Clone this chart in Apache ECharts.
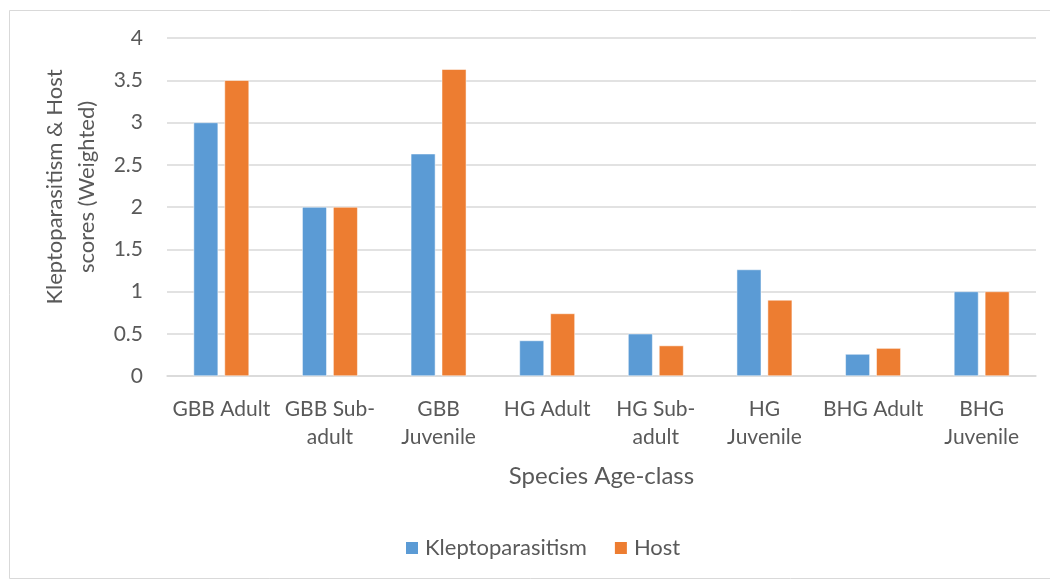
<!DOCTYPE html>
<html>
<head>
<meta charset="utf-8">
<script src="https://cdn.jsdelivr.net/npm/echarts@6/dist/echarts.min.js"></script>
<style>html,body{margin:0;padding:0;background:#fff}#c{width:1050px;height:579px}</style>
</head>
<body>
<div id="c"></div>
<script>
const categories = ['GBB Adult', 'GBB Sub-\nadult', 'GBB\nJuvenile', 'HG Adult', 'HG Sub-\nadult', 'HG\nJuvenile', 'BHG Adult', 'BHG\nJuvenile'];
const kleptoparasitism = [3.0, 2.0, 2.63, 0.42, 0.5, 1.26, 0.26, 1.0];
const host = [3.5, 2.0, 3.63, 0.74, 0.36, 0.9, 0.33, 1.0];
const yTicks = [0, 0.5, 1, 1.5, 2, 2.5, 3, 3.5, 4];

const FONT = 'Lato, "Open Sans", sans-serif';
const TXT = '#595959';
const chart = echarts.init(document.getElementById('c'));
chart.setOption({
  animation: false,
  backgroundColor: '#fff',
  graphic: [{
    type: 'rect', left: 7, top: 8,
    shape: { width: 1050, height: 568 },
    style: { fill: 'none', stroke: '#d9d9d9', lineWidth: 1 },
    silent: true, z: -1
  }],
  grid: { left: 167, right: 14, top: 38, bottom: 203, containLabel: false },
  legend: {
    top: 532, left: 399,
    itemWidth: 14, itemHeight: 14, itemGap: 26,
    icon: 'rect',
    textStyle: { color: TXT, fontSize: 22, fontFamily: FONT, padding: [0, 0, 0, 1] },
    data: ['Kleptoparasitism', 'Host']
  },
  xAxis: {
    type: 'category', data: categories,
    name: 'Species Age-class', nameLocation: 'middle', nameGap: 88,
    nameTextStyle: { color: TXT, fontSize: 24, fontFamily: FONT },
    axisLine: { lineStyle: { color: '#d9d9d9', width: 1.5 } },
    axisTick: { show: false },
    axisLabel: { color: TXT, fontSize: 21, fontFamily: FONT, margin: 19, lineHeight: 28, interval: 0 }
  },
  yAxis: {
    type: 'value', min: yTicks[0], max: yTicks[yTicks.length - 1], interval: 0.5,
    name: 'Kleptoparasitism & Host\nscores (Weighted)', nameLocation: 'middle', nameGap: 57,
    nameTextStyle: { color: TXT, fontSize: 22, fontFamily: FONT, lineHeight: 32, padding: [0, 0, 0, 40] },
    axisLine: { show: false }, axisTick: { show: false },
    splitLine: { lineStyle: { color: '#d9d9d9', width: 1.5 } },
    axisLabel: { color: TXT, fontSize: 21, fontFamily: FONT, margin: 24 }
  },
  series: [
    { name: 'Kleptoparasitism', type: 'bar', data: kleptoparasitism, barWidth: '22.6%', barGap: '26%',
      itemStyle: { color: '#5B9BD5', borderColor: '#fff', borderWidth: 0.5 } },
    { name: 'Host', type: 'bar', data: host, barWidth: '22.6%',
      itemStyle: { color: '#ED7D31', borderColor: '#fff', borderWidth: 0.5 } }
  ]
});
</script>
</body>
</html>
